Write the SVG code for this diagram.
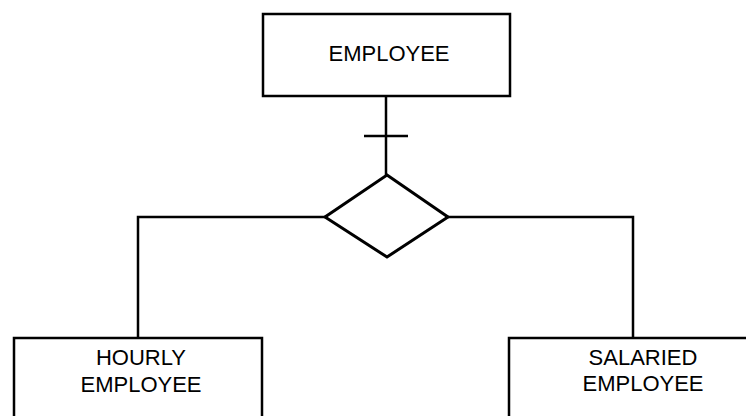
<svg xmlns="http://www.w3.org/2000/svg" width="746" height="416" viewBox="0 0 746 416">
<style>
.box{fill:#fff;stroke:#000;stroke-width:2.5}
.ln{fill:none;stroke:#000;stroke-width:2.5}
.dm{fill:#fff;stroke:#000;stroke-width:3;stroke-linejoin:miter}
.t{font-family:"Liberation Sans",Arial,sans-serif;font-size:22px;fill:#000;text-anchor:middle}
</style>
<rect width="746" height="416" fill="#fff"/>
<g id="connectors">
<line class="ln" x1="386" y1="96" x2="386" y2="175"/>
<line class="ln" x1="364" y1="136" x2="408" y2="136"/>
<polyline class="ln" points="325,217 138,217 138,338"/>
<polyline class="ln" points="448,217 633,217 633,338"/>
</g>
<g id="employee">
<rect class="box" x="263" y="14" width="247" height="82"/>
<text class="t" x="389" y="61">EMPLOYEE</text>
</g>
<g id="isa">
<polygon class="dm" points="387,175 448,217 387,257 325,217"/>
</g>
<g id="hourly">
<rect class="box" x="14" y="338" width="248" height="100"/>
<text class="t" x="141" y="365">HOURLY</text>
<text class="t" x="141" y="392">EMPLOYEE</text>
</g>
<g id="salaried">
<rect class="box" x="509" y="338" width="260" height="100"/>
<text class="t" x="643" y="365">SALARIED</text>
<text class="t" x="643" y="391">EMPLOYEE</text>
</g>
</svg>
